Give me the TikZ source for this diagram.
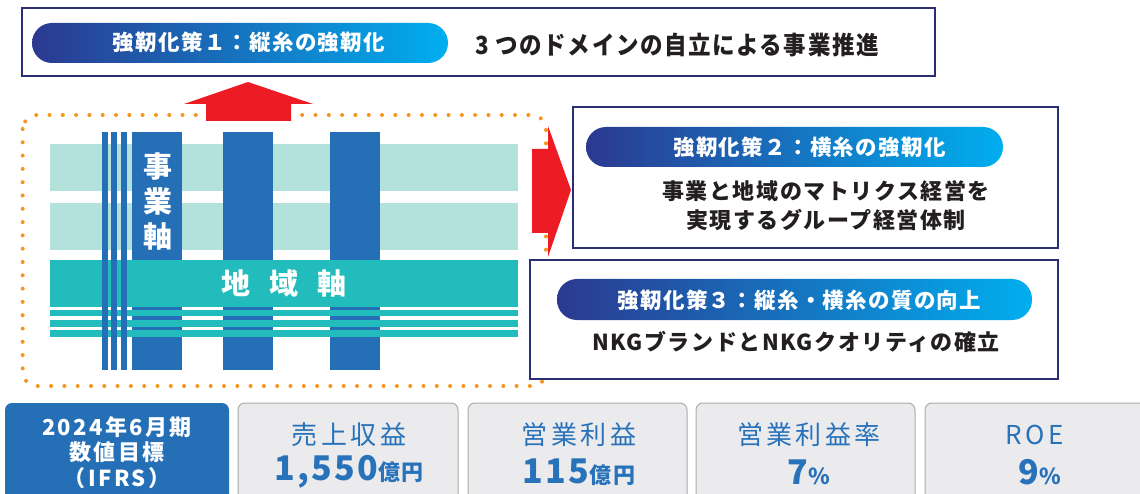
\documentclass[tikz,border=0pt]{standalone}
\usepackage{fontspec}
\usepackage{graphicx}
\setmainfont{Noto Sans CJK JP}
\newfontfamily\jp{Noto Sans CJK JP}
\newfontfamily\jpa[LetterSpace=6]{Noto Sans CJK JP}
\newfontfamily\jpb[LetterSpace=7]{Noto Sans CJK JP}
\newfontfamily\jpe[LetterSpace=11]{Noto Sans CJK JP}
\newfontfamily\jpc[LetterSpace=13]{Noto Sans CJK JP}
\newfontfamily\jpd[LetterSpace=7]{Noto Sans CJK JP}
\definecolor{navy}{RGB}{43,46,115}
\definecolor{pl}{RGB}{43,57,144}
\definecolor{pm}{RGB}{8,84,164}
\definecolor{pr}{RGB}{0,174,239}
\definecolor{redA}{RGB}{237,28,36}
\definecolor{orangeA}{RGB}{247,148,29}
\definecolor{lteal}{RGB}{179,225,220}
\definecolor{tealb}{RGB}{33,188,187}
\definecolor{colb}{RGB}{36,111,182}
\definecolor{greyf}{RGB}{235,235,238}
\definecolor{greyd}{RGB}{172,172,172}
\definecolor{txtd}{RGB}{35,31,32}
\definecolor{txtb}{RGB}{40,114,186}
\tikzset{
  frame/.style={draw=navy, line width=1.6pt, fill=white, inner sep=0pt},
  pill/.style={rounded corners=20pt, left color=pl, middle color=pm, right color=pr, draw=none, inner sep=0pt},
  pilltext/.style={text=white, inner sep=0pt, font=\jpa\bfseries\fontsize{21.5}{24}\selectfont},
  bodytext/.style={text=txtd, inner sep=0pt, font=\jpb\bfseries\fontsize{22}{29}\selectfont, align=center},
  kpi/.style={draw=greyd, line width=1pt, fill=greyf, rounded corners=7pt},
  kpititle/.style={text=txtb, inner sep=0pt, font=\jpc\fontsize{26}{30}\selectfont},
  kpival/.style={text=txtb, inner sep=0pt, font=\jpd\bfseries\fontsize{34}{38}\selectfont},
  arrowred/.style={fill=redA, draw=none}
}
\newcommand{\unitsm}[1]{{\fontsize{22}{26}\selectfont #1}}
\begin{document}
\begin{tikzpicture}[x=1pt,y=-1pt]
\useasboundingbox (0,0) rectangle (1140,494);
% matrix of axes
\fill[lteal] (50,144) rectangle (518,191);
\fill[lteal] (50,203) rectangle (518,250);
\fill[colb] (132,132) rectangle (182,370);
\fill[colb] (223,132) rectangle (273,370);
\fill[colb] (330,132) rectangle (380,370);
\fill[tealb] (50,260) rectangle (518,307);
\foreach \a/\b in {310/316,320/327,330/337} \fill[tealb] (50,\a) rectangle (518,\b);
\foreach \a in {102,111,121} \fill[colb] (\a,132) rectangle ({\a+6},370);
\node[text=white, inner sep=0pt, align=center, font=\jp\bfseries\fontsize{29}{35}\selectfont] (jigyo) at (157.5,201) {事\\業\\軸};
\node[text=white, inner sep=0pt, font=\jp\bfseries\fontsize{29}{35}\selectfont] (chiiki) at (284,283) {地\hspace{19pt}域\hspace{19pt}軸};
% dotted frame
\draw[orangeA, line width=4pt, line cap=round, dash pattern=on 0pt off 13.3pt, rounded corners=14pt] (22.7,115) rectangle (546,386);
% red arrows
\fill[arrowred] (206,121) -- (206,104) -- (184,104) -- (248,82) -- (313,104) -- (291,104) -- (291,121) -- cycle;
\fill[arrowred] (532,149) -- (548,149) -- (548,126) -- (571,190) -- (548,257) -- (548,233) -- (532,233) -- cycle;
% box 1
\node[frame, minimum width=913pt, minimum height=68pt] (b1) at (478.5,42) {};
\node[pill, minimum width=416pt, minimum height=40pt] (p1) at (240,43) {};
\node[pilltext] (p1t) at (249,42) {強靭化策１：縦糸の強靭化};
\node[text=txtd, inner sep=0pt] (t1) at (677,45) {\scalebox{0.9}[1]{\jpd\bfseries\fontsize{25}{29}\selectfont 3 つのドメインの自立による事業推進}};
% box 2
\node[frame, minimum width=485pt, minimum height=141pt] (b2) at (815.5,177.5) {};
\node[pill, minimum width=417pt, minimum height=40pt] (p2) at (794.5,147) {};
\node[pilltext] (p2t) at (809.5,147) {強靭化策２：横糸の強靭化};
\node[bodytext] (t2) at (826,205.5) {事業と地域のマトリクス経営を\\実現するグループ経営体制};
% box 3
\node[frame, minimum width=528pt, minimum height=119pt] (b3) at (794,319.5) {};
\node[pill, minimum width=475pt, minimum height=41pt] (p3) at (794.5,299.5) {};
\node[pilltext] (p3t) at (799.5,300) {強靭化策３：縦糸・横糸の質の向上};
\node[bodytext] (t3) at (796,342) {NKGブランドとNKGクオリティの確立};
% KPI row
\fill[colb, rounded corners=7pt] (5,403) rectangle (229,510);
\draw[kpi] (238,403) rectangle (458,510);
\draw[kpi] (468,403) rectangle (687,510);
\draw[kpi] (696,403) rectangle (915,510);
\draw[kpi] (925,403) rectangle (1160,510);
\node[text=white, inner sep=0pt, align=center, font=\jpe\bfseries\fontsize{22}{25.5}\selectfont] (k0) at (117,452.5) {2024年6月期\\数値目標\\（IFRS）};
\node[kpititle] (k1t) at (349,435) {売上収益};
\node[kpival] (k1v) at (349,472) {1,550\unitsm{億円}};
\node[kpititle] (k2t) at (579,435) {営業利益};
\node[kpival] (k2v) at (579,472) {115\unitsm{億円}};
\node[kpititle] (k3t) at (809,435) {営業利益率};
\node[kpival] (k3v) at (809,472) {7\unitsm{\%}};
\node[kpititle] (k4t) at (1034.5,435) {ROE};
\node[kpival] (k4v) at (1040,472) {9\unitsm{\%}};
\end{tikzpicture}
\end{document}
